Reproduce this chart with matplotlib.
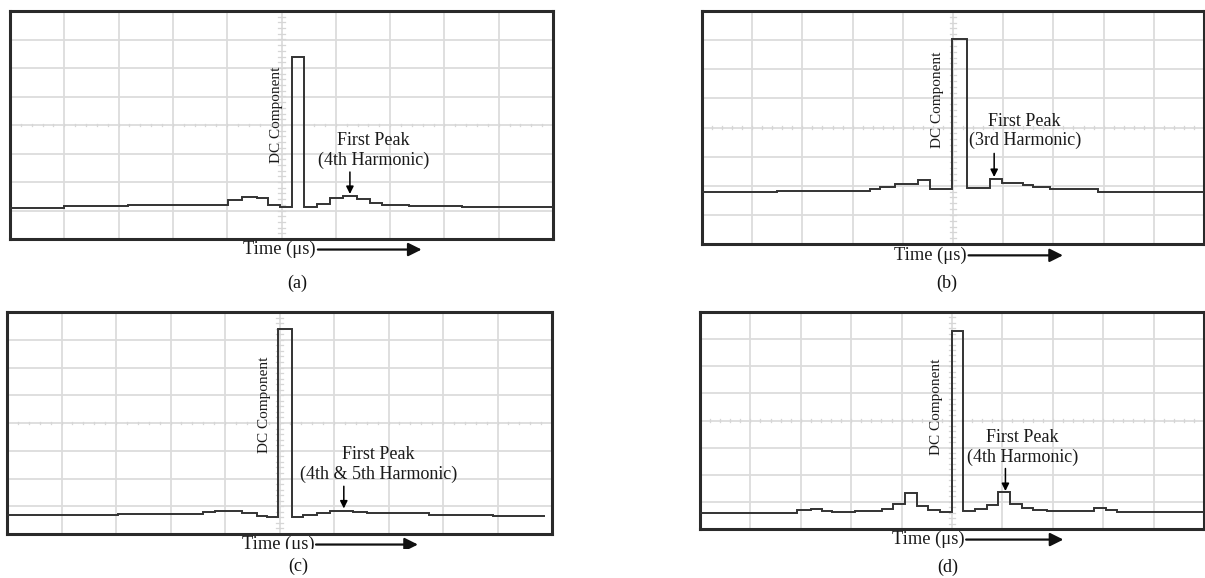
import matplotlib
matplotlib.use('Agg')
import matplotlib.pyplot as plt
from matplotlib.transforms import Bbox, TransformedBbox
import numpy as np

plt.rcParams['font.family'] = ['Liberation Serif', 'DejaVu Serif']

# traces as steps, in screen divisions (10 across, 8 up)
a_edges = [0, 1.0, 2.18, 4.01, 4.27, 4.55, 4.75, 4.97, 5.19, 5.42, 5.65, 5.89, 6.13, 6.39, 6.63, 6.85, 7.35, 8.33, 10]
a_levels = [1.10, 1.15, 1.21, 1.37, 1.48, 1.44, 1.19, 1.13, 6.39, 1.13, 1.23, 1.44, 1.51, 1.42, 1.26, 1.21, 1.17, 1.12]

b_edges = [0, 1.5, 3.35, 3.55, 3.84, 4.30, 4.54, 4.98, 5.28, 5.74, 5.98, 6.39, 6.59, 6.93, 7.88, 10]
b_levels = [1.80, 1.83, 1.88, 1.97, 2.06, 2.20, 1.88, 7.03, 1.91, 2.23, 2.08, 2.03, 1.97, 1.88, 1.80]

c_edges = [0, 2.03, 3.6, 3.82, 4.31, 4.59, 4.77, 4.97, 5.23, 5.43, 5.69, 5.93, 6.35, 6.6, 6.89, 7.74, 8.92, 9.87]
c_levels = [0.67, 0.72, 0.79, 0.83, 0.75, 0.65, 0.62, 7.38, 0.62, 0.70, 0.77, 0.84, 0.79, 0.75, 0.74, 0.70, 0.66]

d_edges = [0, 1.93, 2.2, 2.43, 2.62, 3.08, 3.61, 3.83, 4.07, 4.31, 4.53, 4.76, 5.0, 5.22, 5.46,
           5.69, 5.92, 6.15, 6.38, 6.61, 6.88, 7.82, 8.05, 8.28, 10]
d_levels = [0.60, 0.69, 0.75, 0.68, 0.64, 0.67, 0.74, 0.91, 1.32, 0.85, 0.70, 0.62, 7.29, 0.66,
            0.74, 0.89, 1.35, 0.92, 0.79, 0.70, 0.65, 0.78, 0.69, 0.63]

panel_labels = ['(a)', '(b)', '(c)', '(d)']
peak_notes = ['First Peak\n(4th Harmonic)', 'First Peak\n(3rd Harmonic)',
              'First Peak\n(4th & 5th Harmonic)', 'First Peak\n(4th Harmonic)']

W, H = 1205, 578
fig = plt.figure(figsize=(W / 100, H / 100), dpi=100, facecolor='white')

# box in pixels: left, top, right, bottom
boxes = [(10, 11, 553, 239), (702, 11, 1204, 244), (7, 312, 552, 534), (700, 312, 1204, 529)]
# where the texts go, in divisions
dc_pos = [(4.91, 4.34), (4.69, 4.94), (4.73, 4.66), (4.70, 4.51)]
note_pos = [(6.69, 3.09), (6.43, 3.88), (6.81, 2.50), (6.40, 2.99)]
arrow_x = [6.26, 5.82, 6.18, 6.06]
arrow_y = [(2.35, 1.58), (3.11, 2.30), (1.72, 0.92), (2.23, 1.40)]
time_pos = [(4.96, -0.37), (4.55, -0.39), (4.98, -0.38), (4.53, -0.39)]
time_arrow = [(5.67, 7.58), (5.31, 7.19), (5.67, 7.54), (5.28, 7.21)]
label_pos = [(5.29, -1.57), (4.88, -1.35), (5.34, -1.16), (4.91, -1.41)]

traces = [(a_edges, a_levels), (b_edges, b_levels), (c_edges, c_levels), (d_edges, d_levels)]

grid_col = '#dcdcdc'

for i, (edges, levels) in enumerate(traces):
    l, t, r, b = boxes[i]
    ax = fig.add_axes([l / W, 1 - b / H, (r - l) / W, (b - t) / H])
    ax.set_xlim(0, 10)
    ax.set_ylim(0, 8)
    ax.set_xticks([])
    ax.set_yticks([])
    for s in ax.spines.values():
        s.set_linewidth(2.2)
        s.set_color('#2a2a2a')

    # graticule
    for gx in range(1, 10):
        ax.axvline(gx, color=grid_col, lw=1.3, zorder=1)
    for gy in range(1, 8):
        ax.axhline(gy, color=grid_col, lw=1.3, zorder=1)
    for mx in np.arange(0.2, 10, 0.2):
        ax.plot([mx, mx], [3.95, 4.05], color='#d6d6d6', lw=0.9, zorder=1)
    for my in np.arange(0.2, 8, 0.2):
        ax.plot([4.94, 5.06], [my, my], color='#d6d6d6', lw=0.9, zorder=1)

    ax.stairs(levels, edges, baseline=None, color='#333333', lw=1.4, zorder=3)

    ax.text(dc_pos[i][0], dc_pos[i][1], 'DC Component', rotation=90, ha='center', va='center',
            fontsize=11, color='#1a1a1a', zorder=4)
    ax.text(note_pos[i][0], note_pos[i][1], peak_notes[i], ha='center', va='center',
            fontsize=13, color='#1a1a1a', linespacing=1.2, zorder=4)
    ax.annotate('', xy=(arrow_x[i], arrow_y[i][1]), xytext=(arrow_x[i], arrow_y[i][0]),
                arrowprops=dict(arrowstyle='-|>', color='black', lw=1.1, mutation_scale=11,
                                shrinkA=0, shrinkB=0), zorder=4)

    clip = None
    if i == 2:
        # the scan cuts this caption off at the bottom
        clip = TransformedBbox(Bbox([[0, 1 - 549 / H], [1, 1]]), fig.transFigure)

    tt = ax.text(time_pos[i][0], time_pos[i][1], 'Time (μs)', ha='center', va='center',
                 fontsize=13.3, color='#1a1a1a', clip_on=False)
    ann = ax.annotate('', xy=(time_arrow[i][1], time_pos[i][1]), xytext=(time_arrow[i][0], time_pos[i][1]),
                      arrowprops=dict(arrowstyle='-|>', color='#111111', lw=1.6, mutation_scale=20,
                                      shrinkA=0, shrinkB=0), annotation_clip=False)
    if clip is not None:
        tt.set_clip_on(True)
        tt.set_clip_box(clip)
        ann.arrow_patch.set_clip_on(True)
        ann.arrow_patch.set_clip_box(clip)

    ax.text(label_pos[i][0], label_pos[i][1], panel_labels[i], ha='center', va='center',
            fontsize=13, color='#111111', clip_on=False)

fig.savefig('out.png', dpi=100, facecolor='white')
